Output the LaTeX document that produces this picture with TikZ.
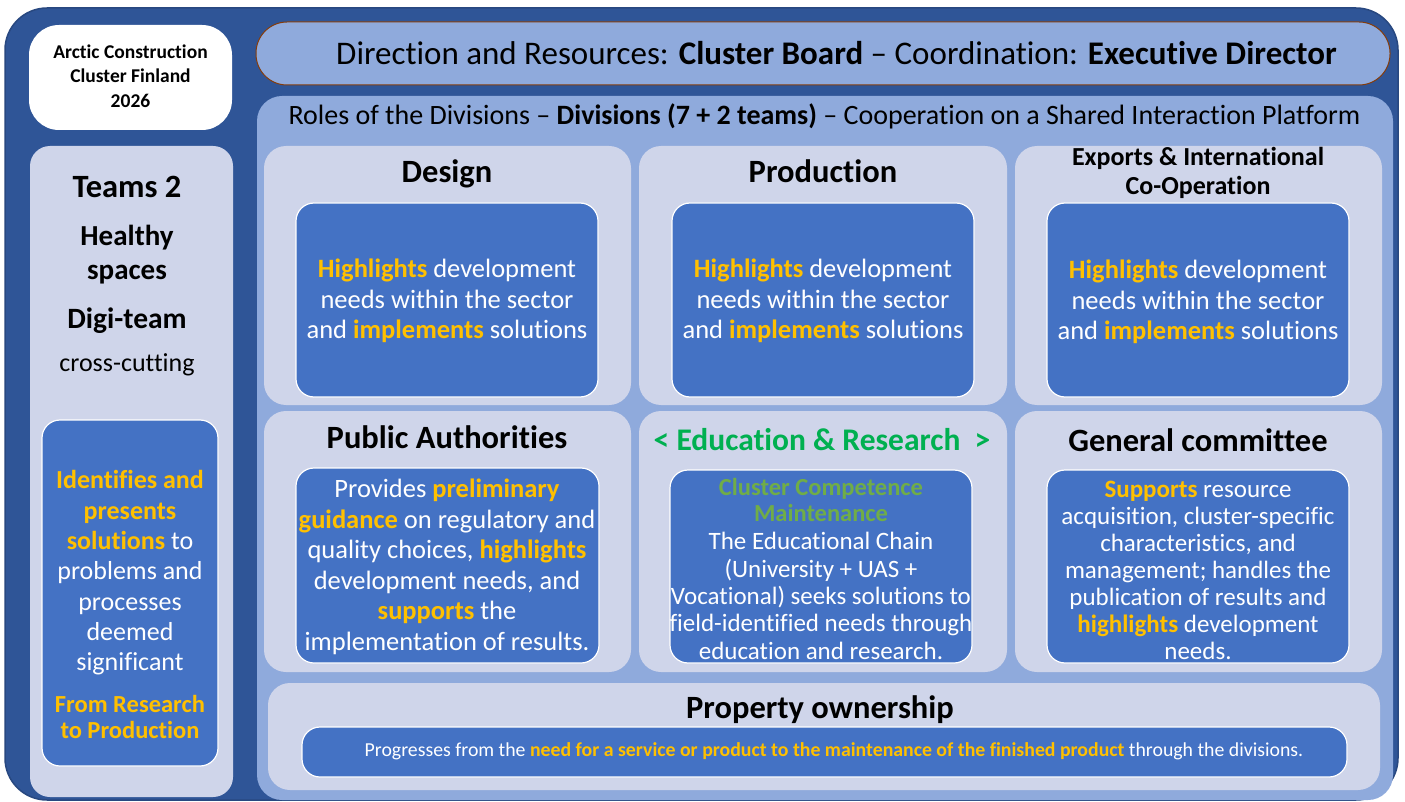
\documentclass[tikz,border=0pt]{standalone}
\usepackage{fontspec}
\setmainfont{Carlito}[Ligatures=NoCommon]
\usetikzlibrary{positioning}

\definecolor{darkblue}{HTML}{2F5597}
\definecolor{lightblue}{HTML}{8FAADC}
\definecolor{paleblue}{HTML}{CFD5EA}
\definecolor{midblue}{HTML}{4472C4}
\definecolor{hlyellow}{HTML}{FFC000}
\definecolor{edugreen}{HTML}{00B050}
\definecolor{compgreen}{HTML}{70AD47}
\definecolor{boardbrown}{HTML}{843C0C}

\newcommand{\hl}[1]{\textcolor{hlyellow}{\textbf{#1}}}
\newcommand{\fsz}[2]{\fontsize{#1}{#2}\selectfont}

\begin{document}
\begin{tikzpicture}[x=1pt,y=-1pt,
  cell/.style={fill=paleblue,rounded corners=22pt},
  innerbox/.style={fill=midblue,draw=white,line width=1.2pt,rounded corners=18pt},
  title/.style={font=\fsz{32.5}{34}\bfseries,align=center,text height=23pt,text depth=7pt},
  body/.style={text=white,align=center,font=\fsz{26.5}{30.5}}]
\useasboundingbox (0,0) rectangle (1405,802);
%\draw[] (0,0) grid (1405,802);
\fill[white] (0,0) rectangle (1405,802);
\draw[darkblue!85!black,fill=darkblue,line width=1.5pt,rounded corners=42pt] (5,8) rectangle (1398,800);

% left column
\fill[white,rounded corners=30pt] (29,25) rectangle (232,130);
\node[align=center,font=\fsz{19.5}{24.5}\bfseries] (cluster) at (130.5,76) {Arctic Construction\\Cluster Finland\\2026};
\fill[paleblue,rounded corners=20pt] (30,146) rectangle (233,797);
\node[font=\fsz{32.5}{34}\bfseries] (teams) at (127,187) {Teams 2};
\node[align=center,font=\fsz{29}{34}\bfseries] (healthy) at (127,255) {Healthy\\spaces};
\node[font=\fsz{29.5}{32}\bfseries] (digi) at (127,321) {Digi-team};
\node[font=\fsz{26}{28}] (cross) at (127,365) {cross-cutting};
\draw[innerbox] (42,420) rectangle (218,766);
\node[body,font=\fsz{26}{30.3}] (identifies) at (130,573) {\hl{Identifies and}\\\hl{presents}\\\hl{solutions} to\\problems and\\processes\\deemed\\significant};
\node[align=center,font=\fsz{24.5}{26.5}\bfseries,text=hlyellow] (research) at (130,717) {From Research\\to Production};

% top bar and panel
\draw[boardbrown,fill=lightblue,line width=1pt,rounded corners=31pt] (256,22) rectangle (1390,85);
\node[font=\fsz{33}{36}] (board) at (836.5,53) {Direction and Resources: \textbf{Cluster Board} -- Coordination: \textbf{Executive Director}};
\fill[lightblue,rounded corners=25pt] (257,96) rectangle (1393,800);
\node[font=\fsz{28}{30}] (roles) at (824.5,116) {Roles of the Divisions -- \textbf{Divisions (7 + 2 teams)} -- Cooperation on a Shared Interaction Platform};

% division cells
\fill[cell] (264,146) rectangle (631,405);
\fill[cell] (639,146) rectangle (1007,405);
\fill[cell] (1015,146) rectangle (1382,405);
\fill[cell] (264,411) rectangle (631,672);
\fill[cell] (639,411) rectangle (1007,672);
\fill[cell] (1015,411) rectangle (1382,672);
\fill[cell] (268,683) rectangle (1380,790);

\node[title] (design) at (447,174.5) {Design};
\node[title] (production) at (823,174.5) {Production};
\node[font=\fsz{26}{29}\bfseries,align=center] (exports) at (1198,173) {Exports \& International\\Co-Operation};

\draw[innerbox] (296,203) rectangle (598,397);
\draw[innerbox] (672,203) rectangle (974,397);
\draw[innerbox] (1047,203) rectangle (1349,397);
\node[body] (designtxt) at (447,301) {\hl{Highlights} development\\needs within the sector\\and \hl{implements} solutions};
\node[body] (prodtxt) at (823,301) {\hl{Highlights} development\\needs within the sector\\and \hl{implements} solutions};
\node[body] (exporttxt) at (1198,302) {\hl{Highlights} development\\needs within the sector\\and \hl{implements} solutions};

\node[title] (public) at (447,440.5) {Public Authorities};
\node[title,font=\fsz{31.5}{34}\bfseries,text=edugreen] (education) at (822,442.5) {< Education \& Research\ \ >};
\node[title] (general) at (1198,443.5) {General committee};

\draw[innerbox] (296,468) rectangle (599,663);
\draw[innerbox] (670,470) rectangle (972,663);
\draw[innerbox] (1047,470) rectangle (1349,663);
\node[body] (publictxt) at (447,567) {Provides \hl{preliminary}\\\hl{guidance} on regulatory and\\quality choices, \hl{highlights}\\development needs, and\\\hl{supports} the\\implementation of results.};
\node[align=center,font=\fsz{24.5}{26.5}\bfseries,text=compgreen] (competence) at (821,500) {Cluster Competence\\Maintenance};
\node[body,font=\fsz{25}{27.3}] (edutxt) at (821,596) {The Educational Chain\\(University + UAS +\\Vocational) seeks solutions to\\field-identified needs through\\education and research.};
\node[body,font=\fsz{25}{27}] (generaltxt) at (1198,570) {\hl{Supports} resource\\acquisition, cluster-specific\\characteristics, and\\management; handles the\\publication of results and\\\hl{highlights} development\\needs.};

% property ownership
\node[title] (property) at (820,710) {Property ownership};
\draw[innerbox] (302,727) rectangle (1347,777);
\node[text=white,font=\fsz{19.8}{22}] (proptxt) at (834,751) {Progresses from the \hl{need for a service or product to the maintenance of the finished product} through the divisions.};
\end{tikzpicture}
\end{document}
